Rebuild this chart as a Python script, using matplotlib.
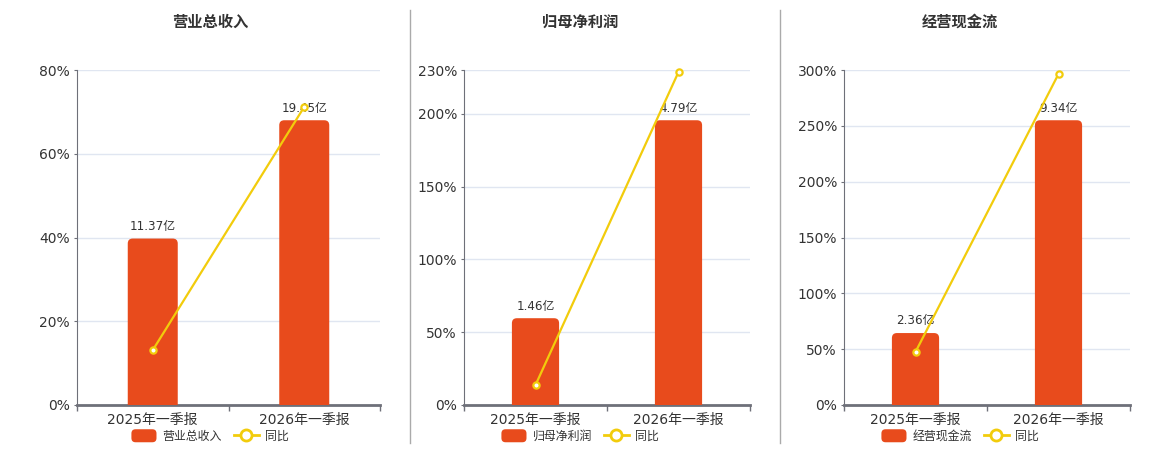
import matplotlib.pyplot as plt
import matplotlib.patches as mpatches
from matplotlib.legend_handler import HandlerPatch
from matplotlib.lines import Line2D
from matplotlib.patches import FancyBboxPatch
import numpy as np

plt.rcParams["font.family"] = ["DejaVu Sans", "Noto Sans CJK SC"]

categories = ["2025年一季报", "2026年一季报"]
titles = ["营业总收入", "归母净利润", "经营现金流"]
bar_values = [[11.37, 19.45], [1.46, 4.79], [2.36, 9.34]]
bar_labels = [["11.37亿", "19.45亿"], ["1.46亿", "4.79亿"], ["2.36亿", "9.34亿"]]
yoy_values = [[13.1, 71.2], [13.7, 228.6], [47.5, 296.4]]
pct_ticks = [[0, 20, 40, 60, 80], [0, 50, 100, 150, 200, 230], [0, 50, 100, 150, 200, 250, 300]]

BAR_COLOR = "#E84B1C"
LINE_COLOR = "#F2CC0C"
TEXT_COLOR = "#333333"
AXIS_COLOR = "#6E7079"
GRID_COLOR = "#E0E6F1"

W, H = 1160, 450
fig = plt.figure(figsize=(W / 100, H / 100), dpi=100)


def rounded_patch(legend, orig_handle, xdescent, ydescent, width, height, fontsize):
    return FancyBboxPatch((-xdescent, -ydescent), width, height,
                          boxstyle="round,pad=0,rounding_size=3")


# pixel layout of each panel: axes left, axes right, title/legend centre
layout = [(77, 380, 210), (464, 750, 580), (844, 1130, 960)]
ax_top, ax_bot = 70, 405

for i, (left, right, cx) in enumerate(layout):
    ax = fig.add_axes([left / W, 1 - ax_bot / H, (right - left) / W, (ax_bot - ax_top) / H])
    ymax = pct_ticks[i][-1]
    ax.set_ylim(0, ymax)
    ax.set_xlim(-0.5, 1.5)
    ax.set_yticks(pct_ticks[i])
    ax.set_yticklabels([f"{t}%" for t in pct_ticks[i]])
    ax.tick_params(axis="y", length=2, pad=3, labelsize=10, colors=AXIS_COLOR, labelcolor=TEXT_COLOR)
    ax.set_xticks([0, 1])
    ax.set_xticklabels(categories)
    ax.tick_params(axis="x", length=0, pad=6, labelsize=10, labelcolor=TEXT_COLOR)
    ax.set_xticks([-0.5, 0.5, 1.5], minor=True)
    ax.tick_params(axis="x", which="minor", length=4, width=1, colors=AXIS_COLOR)
    ax.grid(axis="y", color=GRID_COLOR, lw=1)
    ax.set_axisbelow(True)
    for s in ["top", "right"]:
        ax.spines[s].set_visible(False)
    ax.spines["left"].set_color(AXIS_COLOR)
    ax.spines["bottom"].set_color(AXIS_COLOR)
    ax.spines["bottom"].set_linewidth(2)
    ax.spines["bottom"].set_zorder(5)

    # bars on a hidden second scale
    bx = ax.twinx()
    bx.set_ylim(0, max(bar_values[i]) / 0.85)
    bx.axis("off")
    bx.set_xlim(-0.5, 1.5)
    px_w = (right - left) / 2.0
    px_h = bx.get_ylim()[1] / (ax_bot - ax_top)
    r = 5 / px_w
    bw = 0.33
    for x, v, lab in zip(range(2), bar_values[i], bar_labels[i]):
        p = FancyBboxPatch((x - bw / 2, -10 * px_h), bw, v + 10 * px_h,
                           boxstyle=f"round,pad=0,rounding_size={r}",
                           mutation_aspect=px_h * px_w,
                           fc=BAR_COLOR, ec="none", zorder=2)
        bx.add_patch(p)
        bx.annotate(lab, (x, v), xytext=(0, 4), textcoords="offset points",
                    ha="center", va="bottom", fontsize=8.6, color=TEXT_COLOR, zorder=3)

    # yoy line drawn over everything
    lx = ax.twinx()
    lx.set_ylim(0, ymax)
    lx.set_xlim(-0.5, 1.5)
    lx.axis("off")
    lx.plot(range(2), yoy_values[i], color=LINE_COLOR, lw=1.6, marker="o", ms=4.5,
            mfc="white", mec=LINE_COLOR, mew=1.6, zorder=4, clip_on=False)

    fig.text(cx / W, 1 - 22 / H, titles[i], ha="center", va="center",
             fontsize=11, fontweight="bold", color=TEXT_COLOR)

    bar_handle = mpatches.Patch(fc=BAR_COLOR, ec="none")
    handles = [
        bar_handle,
        Line2D([], [], color=LINE_COLOR, lw=2, marker="o", ms=8, mfc="white", mec=LINE_COLOR, mew=2),
    ]
    fig.legend(handles, [titles[i], "同比"], loc="center", bbox_to_anchor=(cx / W, 1 - 436 / H),
               ncol=2, frameon=False, fontsize=8.6, labelcolor=TEXT_COLOR,
               handlelength=2.1, handleheight=1.3, handletextpad=0.5, columnspacing=1.0,
               borderpad=0, handler_map={bar_handle: HandlerPatch(patch_func=rounded_patch)})

for xd in [410, 780]:
    fig.add_artist(Line2D([xd / W, xd / W], [1 - 443 / H, 1 - 10 / H], color="#AAAAAA", lw=1))

fig.savefig("out.png", dpi=100, facecolor="white")
